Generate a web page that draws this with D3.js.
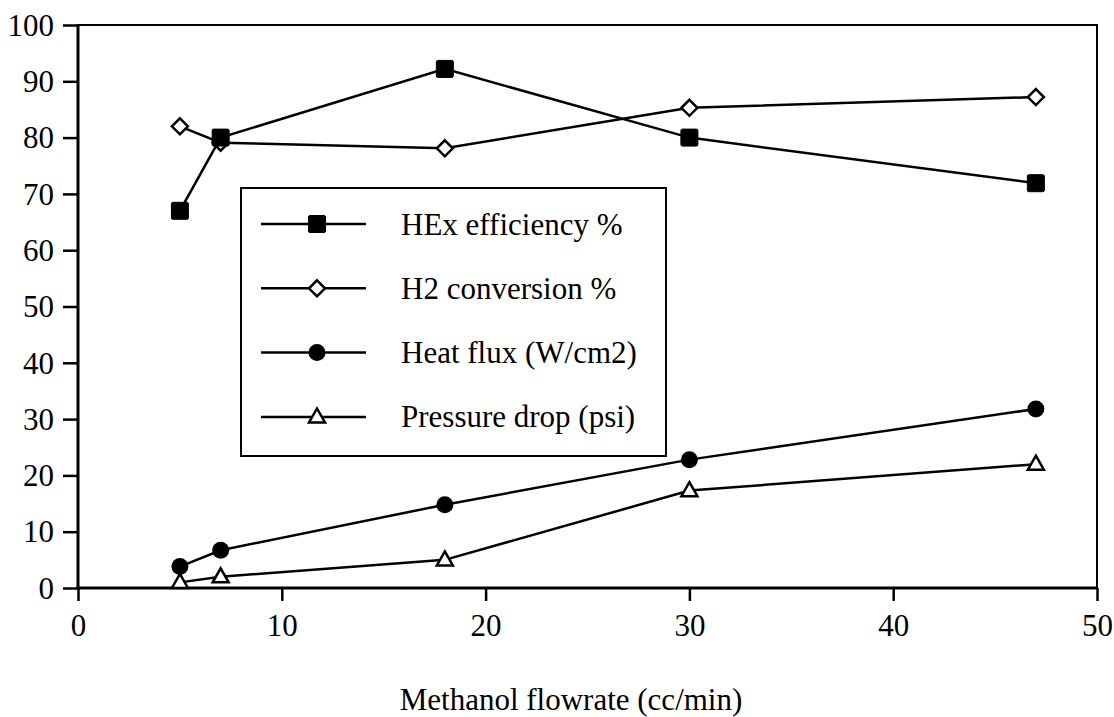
<!DOCTYPE html>
<html>
<head>
<meta charset="utf-8">
<script src="https://cdn.jsdelivr.net/npm/d3@7"></script>
<style>
  html, body { margin: 0; padding: 0; background: #fff; }
  svg { display: block; }
  text { font-family: "Liberation Serif", "Times New Roman", serif; fill: #000; }
</style>
</head>
<body>
<svg id="chart" width="1114" height="717" font-family="Liberation Serif, serif"></svg>
<script>
// ---- data ----
const flowrates = [5, 7, 18, 30, 47];
const hexEfficiency = [67, 80, 92.2, 80, 71.9];
const h2Conversion = [82, 79.1, 78.1, 85.3, 87.2];
const heatFlux = [3.8, 6.7, 14.8, 22.8, 31.8];
const pressureDrop = [1, 2, 5, 17.3, 22];
const seriesNames = ["HEx efficiency %", "H2 conversion %", "Heat flux (W/cm2)", "Pressure drop (psi)"];
const xTicks = [0, 10, 20, 30, 40, 50];
const yTicks = [0, 10, 20, 30, 40, 50, 60, 70, 80, 90, 100];
const xTitle = "Methanol flowrate (cc/min)";

(function () {
// ---- layout ----
const svg = d3.select("#chart");
const pL = 78, pR = 1097, pT = 25, pB = 588;
const x = d3.scaleLinear().domain([0, 50]).range([pL, pR]);
const y = d3.scaleLinear().domain([0, 100]).range([pB, pT]);
const FS = 31;
const FONT = "'Liberation Serif', 'Times New Roman', serif";

// frame
svg.append("rect").attr("x", pL).attr("y", pT)
  .attr("width", pR - pL).attr("height", pB - pT)
  .attr("fill", "none").attr("stroke", "#000").attr("stroke-width", 2);

// axes
const yAxis = d3.axisLeft(y).tickValues(yTicks).tickSize(15).tickPadding(9).tickFormat(d3.format("d"));
const gy = svg.append("g").attr("transform", `translate(${pL},0)`).call(yAxis)
  .attr("font-family", null).attr("font-size", null);
gy.select(".domain").remove();
gy.selectAll(".tick line").attr("stroke", "#000").attr("stroke-width", 2.5);
gy.selectAll(".tick text").style("font-size", FS + "px").style("font-family", FONT)
  .attr("fill", "#000").attr("dy", "0.33em");

const xAxis = d3.axisBottom(x).tickValues(xTicks).tickSize(13).tickPadding(13).tickFormat(d3.format("d"));
const gx = svg.append("g").attr("transform", `translate(0,${pB})`).call(xAxis)
  .attr("font-family", null).attr("font-size", null);
gx.select(".domain").remove();
gx.selectAll(".tick line").attr("stroke", "#000").attr("stroke-width", 2.5);
gx.selectAll(".tick text").style("font-size", FS + "px").style("font-family", FONT)
  .attr("fill", "#000");

// thick left / bottom axis lines
svg.append("line").attr("x1", pL).attr("x2", pL).attr("y1", pT - 1).attr("y2", pB + 1.5)
  .attr("stroke", "#000").attr("stroke-width", 3);
svg.append("line").attr("x1", pL - 1.5).attr("x2", pR + 1).attr("y1", pB).attr("y2", pB)
  .attr("stroke", "#000").attr("stroke-width", 3);

// axis title
svg.append("text").attr("x", 571).attr("y", 710).attr("text-anchor", "middle")
  .style("font-size", FS + "px").style("font-family", FONT).text(xTitle);

// ---- markers ----
function drawMarker(g, type, cx, cy) {
  if (type === "square") {
    g.append("rect").attr("x", cx - 8.5).attr("y", cy - 8.5).attr("width", 17).attr("height", 17)
      .attr("rx", 1.5).attr("fill", "#000").attr("stroke", "#000").attr("stroke-width", 1);
  } else if (type === "diamond") {
    const r = 8;
    g.append("path").attr("d", `M${cx},${cy - r}L${cx + r},${cy}L${cx},${cy + r}L${cx - r},${cy}Z`)
      .attr("fill", "#fff").attr("stroke", "#000").attr("stroke-width", 2.5);
  } else if (type === "circle") {
    g.append("circle").attr("cx", cx).attr("cy", cy).attr("r", 8.5).attr("fill", "#000");
  } else if (type === "triangle") {
    const w = 8, h = 14;
    g.append("path").attr("d", `M${cx},${cy - h * 0.6}L${cx + w},${cy + h * 0.4}L${cx - w},${cy + h * 0.4}Z`)
      .attr("fill", "#fff").attr("stroke", "#000").attr("stroke-width", 2.5).attr("stroke-linejoin", "miter");
  }
}

const series = [
  { name: seriesNames[1], values: h2Conversion, marker: "diamond" },
  { name: seriesNames[0], values: hexEfficiency, marker: "square" },
  { name: seriesNames[2], values: heatFlux, marker: "circle" },
  { name: seriesNames[3], values: pressureDrop, marker: "triangle" }
];

const line = d3.line().x(d => x(d[0])).y(d => y(d[1]));
series.forEach(s => {
  const pts = flowrates.map((f, i) => [f, s.values[i]]);
  const g = svg.append("g");
  g.append("path").attr("d", line(pts)).attr("fill", "none").attr("stroke", "#000").attr("stroke-width", 2.5);
  pts.forEach(p => drawMarker(g, s.marker, x(p[0]), y(p[1])));
});

// ---- legend ----
const lg = svg.append("g");
lg.append("rect").attr("x", 241).attr("y", 188).attr("width", 425).attr("height", 268)
  .attr("fill", "#fff").attr("stroke", "#000").attr("stroke-width", 2);
const legendOrder = [
  { name: seriesNames[0], marker: "square" },
  { name: seriesNames[1], marker: "diamond" },
  { name: seriesNames[2], marker: "circle" },
  { name: seriesNames[3], marker: "triangle" }
];
legendOrder.forEach((s, i) => {
  const ly = 224 + i * 64.3;
  lg.append("line").attr("x1", 261).attr("x2", 366).attr("y1", ly).attr("y2", ly)
    .attr("stroke", "#000").attr("stroke-width", 2.5);
  drawMarker(lg, s.marker, 317, ly);
  lg.append("text").attr("x", 401).attr("y", ly + 10.5).style("font-size", FS + "px")
    .style("font-family", FONT).text(s.name);
});
})();
</script>
</body>
</html>
